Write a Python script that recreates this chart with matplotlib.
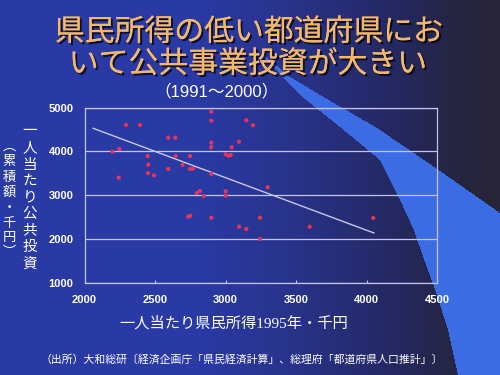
import numpy as np
import matplotlib.pyplot as plt
import matplotlib.patheffects as pe

plt.rcParams['font.family'] = ['Noto Sans CJK JP', 'DejaVu Sans']

# per-capita prefectural income 1995 (thousand yen) vs. cumulative public investment per capita
income = [2294, 2394, 2197, 2247, 2243, 2594, 2644, 2448, 2453, 2450, 2493,
          2594, 2647, 2696, 2748, 2748, 2770, 2796, 2819, 2845, 2736, 2750,
          2899, 2899, 2899, 2899, 2899, 2899, 3001, 3020, 3037, 3044, 3096,
          3148, 3195, 3001, 3001, 3096, 3148, 3245, 3245, 3299, 3597, 4048]
investment = [4605, 4605, 3994, 4056, 3400, 4314, 4314, 3896, 3697, 3507, 3455,
              3599, 3896, 3697, 3896, 3599, 3606, 3050, 3096, 2982, 2509, 2531,
              4909, 4703, 4200, 4095, 3485, 2486, 3935, 3903, 3919, 4095, 4223,
              4712, 4598, 3089, 2989, 2280, 2228, 2486, 2000, 3181, 2280, 2479]

trend_x = [2061, 4053]
trend_y = [4529, 2136]

x_ticks = [2000, 2500, 3000, 3500, 4000, 4500]
y_ticks = [1000, 2000, 3000, 4000, 5000]

title_lines = ['県民所得の低い都道府県にお', 'いて公共事業投資が大きい']
subtitle = '（1991～2000）'
xlabel = '一人当たり県民所得1995年・千円'
ylabel_main = '一人当たり公共投資'
ylabel_sub = '︵累積額・千円︶'
source = '（出所）大和総研〔経済企画庁「県民経済計算」、総理府「都道府県人口推計」〕'

W, H = 500, 375
fig = plt.figure(figsize=(5, 3.75), dpi=100)

# ---- background: blue gradient with a light swoosh on the right
xx, yy = np.meshgrid(np.arange(W) + 0.5, np.arange(H) + 0.5)
gx = [0, 200, 300, 400, 470, 500]
r = np.interp(xx, gx, [42, 42, 40, 36, 38, 40])
g = np.interp(xx, gx, [58, 58, 50, 40, 36, 36])
b = np.interp(xx, gx, [165, 165, 135, 95, 60, 55])
img = np.dstack([r, g, b]) / 255.0

in_y = [55, 77, 95, 127, 160, 200, 228, 262, 295, 330, 375]
in_x = [262, 283, 300, 340, 380, 400, 413, 425, 437, 448, 458]
out_y = [55, 77, 95, 128, 162, 185, 213, 375]
out_x = [264, 290, 320, 377, 427, 460, 500, 700]
x_in = np.interp(yy, in_y, in_x)
x_out = np.interp(yy, out_y, out_x)
band = (xx >= x_in) & (xx <= x_out) & (yy >= 55)
band_col = np.array([60, 108, 228]) / 255.0
img[band] = band_col

bg = fig.add_axes([0, 0, 1, 1], zorder=-10)
bg.imshow(img, extent=[0, W, H, 0], aspect='auto', interpolation='bilinear')
bg.set_xlim(0, W)
bg.set_ylim(H, 0)
bg.axis('off')

# ---- main plot
ax = fig.add_axes([84.5 / W, 1 - 282.7 / H, (437 - 84.5) / W, (282.7 - 107.7) / H])
ax.set_facecolor('none')
line_col = '#c4c4ec'

ax.set_xlim(2000, 4500)
ax.set_ylim(1000, 5000)
ax.set_xticks(x_ticks)
ax.set_yticks(y_ticks)
for s in ax.spines.values():
    s.set_color(line_col)
    s.set_linewidth(0.9)
ax.grid(axis='y', color=line_col, linewidth=0.9)
ax.set_axisbelow(True)
ax.tick_params(axis='x', direction='in', length=2.5, color=line_col, pad=9)
ax.tick_params(axis='y', length=0, pad=8)
for lab in ax.get_xticklabels() + ax.get_yticklabels():
    lab.set_fontfamily('Liberation Sans')
    lab.set_fontweight('bold')
    lab.set_fontsize(8)
    lab.set_color('white')

ax.plot(trend_x, trend_y, color='#c8c8e8', linewidth=1.0, zorder=2)
ax.scatter(income, investment, s=9, color='#e8345a', edgecolors='none', zorder=3)

# ---- texts (figure pixel coordinates via bg axes)
shadow = [pe.withSimplePatchShadow(offset=(1.5, -1.5), shadow_rgbFace='black', alpha=0.7),
          pe.Normal()]
bg.text(249, 32, title_lines[0], fontsize=21.5, color='#f4b868',
        ha='center', va='center', path_effects=shadow)
bg.text(248, 64, title_lines[1], fontsize=21.5, color='#f4b868',
        ha='center', va='center', path_effects=shadow)
bg.text(216, 91, subtitle, fontsize=12, color='white', ha='center', va='center',
        family=['Liberation Sans', 'Noto Sans CJK JP'])

# serif digits, CJK falls back to Noto
bg.text(234, 323, xlabel, fontsize=11, color='white', ha='center', va='center',
        family=['Liberation Serif', 'Noto Sans CJK JP'])

# vertical (stacked) y label in two columns, one character each
main_y = [131.5, 148, 164.5, 181, 197.5, 214, 230.5, 247, 263.5]
for ch, yv in zip(ylabel_main, main_y):
    bg.text(30, yv, ch, fontsize=10.5, color='white', ha='center', va='center')
sub_y = [146, 161.5, 177, 192.5, 208, 223, 238, 253]
for ch, yv in zip(ylabel_sub, sub_y):
    bg.text(9, yv, ch, fontsize=9.5, color='white', ha='center', va='center')

bg.text(241.5, 360, source, fontsize=7.8, color='white', ha='center', va='center')

fig.savefig('out.png', dpi=100)
